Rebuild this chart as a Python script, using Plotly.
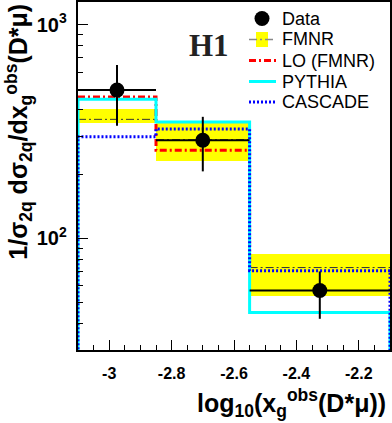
import numpy as np
import plotly.graph_objects as go

# bins in log10(x_g^obs)
EDGES = [-3.1, -2.85, -2.55, -2.1]

# measured data
DATA_Y = [495, 288, 57]
DATA_ERR_UP = [154, 83, 13]
DATA_ERR_DN = [158, 82, 15]

# predictions
FMNR_MID = [361, 290, 73]
FMNR_LO = [348, 231, 53.7]
FMNR_HI = [402, 354, 84.4]
LO_FMNR = [460, 259, 69.5]
PYTHIA = [448, 351, 45]
CASCADE = [299, 325, 70.5]

LEGEND_LABELS = ['Data', 'FMNR', 'LO (FMNR)', 'PYTHIA', 'CASCADE']

Y_FLOOR = 1  # histogram outline drops below the axis
FONT = 'Liberation Sans'
W, H = 392, 423
M = dict(l=78, r=2, t=2, b=73)

STYLES = {
    'fmnr_mid': dict(color='#333333', width=1, dash='8px,3px,2px,3px'),
    'lo': dict(color='#FF0000', width=3, dash='7px,3px,2px,3px'),
    'pythia': dict(color='#00FFFF', width=3),
    'cascade': dict(color='#0000FF', width=3, dash='2px,2px'),
}

edges = np.array(EDGES)
centers = (edges[:-1] + edges[1:]) / 2
halfw = (edges[1:] - edges[:-1]) / 2


def step(vals, to_floor=True):
    x = list(EDGES) + [EDGES[-1]]
    y = list(vals) + [vals[-1]]
    if to_floor:
        x = [EDGES[0]] + x
        y = [Y_FLOOR] + y + [Y_FLOOR]
    else:
        x, y = x[:-1], y[:-1]
    return x, y


def segments(vals):
    x, y = [], []
    for i, v in enumerate(vals):
        x += [EDGES[i], EDGES[i + 1], None]
        y += [v, v, None]
    return x, y


# pixel -> paper helpers for the hand-made legend
def px(v):
    return (v - M['l']) / (W - M['l'] - M['r'])


def py(v):
    return (H - M['b'] - v) / (H - M['t'] - M['b'])


fig = go.Figure()

# FMNR uncertainty band
fig.add_trace(go.Bar(
    x=centers, y=np.array(FMNR_HI) - np.array(FMNR_LO), base=FMNR_LO,
    width=2 * halfw, marker=dict(color='#FFFF00', line_width=0), showlegend=False,
))
sx, sy = segments(FMNR_MID)
fig.add_trace(go.Scatter(x=sx, y=sy, mode='lines', showlegend=False,
                         line=STYLES['fmnr_mid']))

x, y = step(LO_FMNR, to_floor=False)
fig.add_trace(go.Scatter(x=x, y=y, mode='lines', line_shape='hv', showlegend=False,
                         line=STYLES['lo']))
x, y = step(PYTHIA)
fig.add_trace(go.Scatter(x=x, y=y, mode='lines', line_shape='hv', showlegend=False,
                         line=STYLES['pythia']))
x, y = step(CASCADE)
fig.add_trace(go.Scatter(x=x, y=y, mode='lines', line_shape='hv', showlegend=False,
                         line=STYLES['cascade']))

fig.add_trace(go.Scatter(
    x=centers, y=DATA_Y, mode='markers', showlegend=False,
    marker=dict(color='black', size=15),
    error_x=dict(type='data', array=halfw, color='black', thickness=2, width=0),
    error_y=dict(type='data', array=DATA_ERR_UP, arrayminus=DATA_ERR_DN,
                 color='black', thickness=2, width=0),
))

# ── legend (ROOT style, drawn by hand) ─────────────────────────────────────
rows = [18.5, 39.5, 60.5, 81.5, 102]
sym_x0, sym_x1, sym_xc, txt_x = 249, 276, 262, 280
fig.add_shape(type='circle', xref='paper', yref='paper',
              x0=px(sym_xc - 7.5), x1=px(sym_xc + 7.5),
              y0=py(rows[0] + 7.5), y1=py(rows[0] - 7.5),
              fillcolor='black', line_width=0)
fig.add_shape(type='rect', xref='paper', yref='paper',
              x0=px(sym_xc - 6), x1=px(sym_xc + 6),
              y0=py(rows[1] + 7.5), y1=py(rows[1] - 7.5),
              fillcolor='#FFFF00', line_width=0)
fig.add_shape(type='line', xref='paper', yref='paper',
              x0=px(sym_x0), x1=px(sym_x1), y0=py(rows[1]), y1=py(rows[1]),
              line=dict(color='#888888', width=1.5, dash='8px,3px,2px,3px'))
for r, key in zip(rows[2:], ['lo', 'pythia', 'cascade']):
    fig.add_shape(type='line', xref='paper', yref='paper',
                  x0=px(sym_x0), x1=px(sym_x1), y0=py(r), y1=py(r), line=STYLES[key])
for r, lab in zip(rows, LEGEND_LABELS):
    fig.add_annotation(text=lab, x=px(txt_x), y=py(r), xref='paper', yref='paper',
                       xanchor='left', yanchor='middle', showarrow=False,
                       font=dict(family=FONT, size=18, color='black'))

fig.add_annotation(text='<b>H1</b>', x=0.42, y=0.875, xref='paper', yref='paper',
                   showarrow=False, xanchor='center', yanchor='middle',
                   font=dict(family='Liberation Serif', size=31, color='#222'))

fig.add_annotation(
    text='<b>1/σ<sub>2q</sub> dσ<sub>2q</sub>/dx<sub>g</sub><sup>obs</sup>(D*μ)</b>',
    textangle=-90, x=-0.19, y=1.0, xref='paper', yref='paper',
    xanchor='center', yanchor='top', showarrow=False,
    font=dict(family=FONT, size=25, color='black'))
fig.add_annotation(
    text='<b>log<sub>10</sub>(x<sub>g</sub><sup>obs</sup>(D*μ))</b>',
    x=0.995, y=-0.21, xref='paper', yref='paper', xanchor='right', yanchor='bottom',
    showarrow=False, font=dict(family=FONT, size=25, color='black'))

fig.update_layout(
    width=W, height=H,
    margin=dict(**M, autoexpand=False),
    paper_bgcolor='white', plot_bgcolor='white',
    barmode='overlay', bargap=0, showlegend=False,
    font=dict(family=FONT, color='black'),
    xaxis=dict(range=[-3.1, -2.1], tickvals=[-3, -2.8, -2.6, -2.4, -2.2],
               ticktext=['-3', '-2.8', '-2.6', '-2.4', '-2.2'],
               ticks='inside', ticklen=10, tickwidth=1, tickcolor='black',
               ticklabelstandoff=8,
               minor=dict(ticks='inside', ticklen=5, dtick=0.05, tick0=-3,
                          tickcolor='black'),
               showline=True, linewidth=2, linecolor='black', mirror=True,
               showgrid=False, zeroline=False,
               tickfont=dict(size=16, weight='bold')),
    yaxis=dict(type='log', range=[np.log10(30), np.log10(1280)],
               dtick=1, exponentformat='power',
               ticks='inside', ticklen=10, tickwidth=1, tickcolor='black',
               ticklabelstandoff=6,
               minor=dict(ticks='inside', ticklen=5, dtick='D1', tickcolor='black'),
               showline=True, linewidth=2, linecolor='black', mirror=True,
               showgrid=False, zeroline=False,
               tickfont=dict(size=16, weight='bold')),
)

fig.write_html('out.html', config={'displayModeBar': False},
               post_script="document.body.style.margin='0';")
